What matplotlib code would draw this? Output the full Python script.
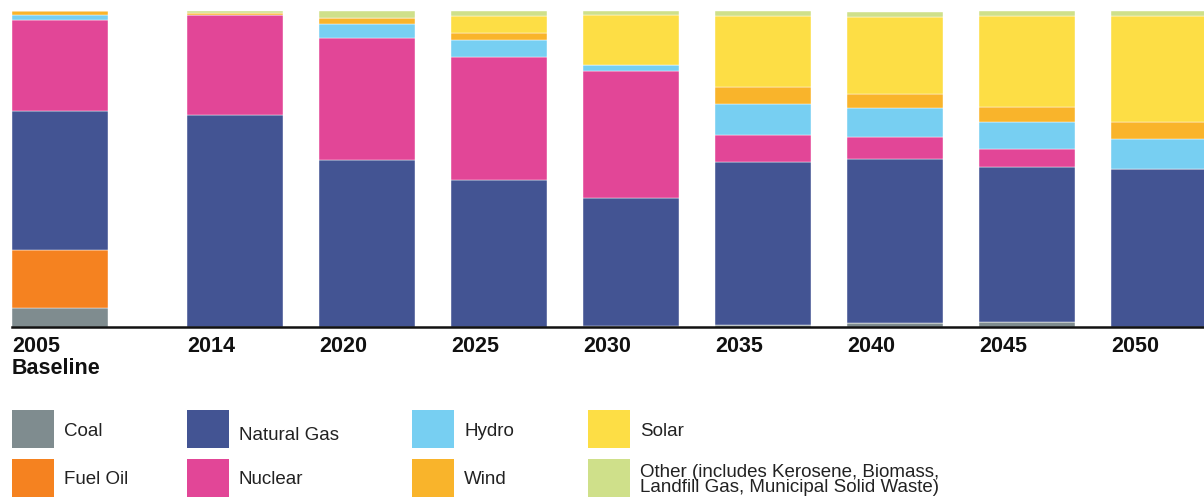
import numpy as np
import matplotlib
matplotlib.use("Agg")
import matplotlib.pyplot as plt
from matplotlib.patches import Rectangle

plt.rcParams['font.family'] = ['Liberation Sans', 'DejaVu Sans']

# share of generation (%)
years = ["2005\nBaseline", "2014", "2020", "2025", "2030", "2035", "2040", "2045", "2050"]
coal = [6.0, 0.0, 0.0, 0.0, 0.4, 0.5, 1.3, 1.6, 0.0]
fuel_oil = [18.4, 0.0, 0.0, 0.0, 0.0, 0.0, 0.0, 0.0, 0.0]
natural_gas = [44.0, 67.1, 52.8, 46.5, 40.4, 51.7, 51.9, 49.1, 50.0]
nuclear = [28.8, 31.6, 38.6, 38.9, 40.2, 8.5, 7.0, 5.7, 0.0]
hydro = [1.6, 0.0, 4.4, 5.4, 1.9, 9.8, 9.2, 8.5, 9.5]
wind = [1.2, 0.7, 1.9, 2.2, 0.0, 5.4, 4.4, 4.7, 5.4]
solar = [0.0, 0.0, 0.0, 5.4, 15.8, 22.5, 24.4, 28.8, 33.5]
other = [0.0, 0.6, 2.2, 1.6, 1.3, 1.6, 1.6, 1.6, 1.6]

names = ["Coal", "Fuel Oil", "Natural Gas", "Nuclear", "Hydro", "Wind", "Solar",
         "Other (includes Kerosene, Biomass,\nLandfill Gas, Municipal Solid Waste)"]
colors = ["#7F8C8F", "#F58220", "#435493", "#E24697", "#77CFF2", "#F9B42B", "#FDDE45", "#CFE08A"]
series = [coal, fuel_oil, natural_gas, nuclear, hydro, wind, solar, other]

W, H = 1204, 500
fig = plt.figure(figsize=(W / 100, H / 100), dpi=100)

unit = 132.0
width = 96 / unit
# first bar sits a bit further from the rest
pos = np.arange(len(years)) + 0.326
pos[0] = 0

left_px, base_px, top_px = 12, 327, 11
ax = fig.add_axes([left_px / W, (H - base_px) / H, (W - left_px) / W, (base_px - top_px) / H])

bottom = np.zeros(len(years))
for vals, c in zip(series, colors):
    vals = np.array(vals)
    ax.bar(pos, vals, width=width, bottom=bottom, color=c, edgecolor='white',
           linewidth=0.3, align='center')
    bottom += vals

ax.set_xlim(-width / 2, -width / 2 + (W - left_px) / unit)
ax.set_ylim(0, 100)
ax.set_yticks([])
ax.set_xticks([])
for s in ["top", "right", "left"]:
    ax.spines[s].set_visible(False)
ax.spines["bottom"].set_linewidth(1.8)
ax.spines["bottom"].set_color("#111111")

for p, lab in zip(pos, years):
    ax.text(p - width / 2, -2.9, lab, ha='left', va='top', fontsize=15.5,
            fontweight='bold', color='#111111', linespacing=1.05)

# legend drawn by hand
legend_cols = [12, 187, 412, 588]
legend_rows = [410, 459]
for i, (name, c) in enumerate(zip(names, colors)):
    col = legend_cols[i // 2]
    row = legend_rows[i % 2]
    sq_w = 42
    sq_h = 38
    fig.add_artist(Rectangle((col / W, (H - row - sq_h) / H), sq_w / W, sq_h / H,
                             transform=fig.transFigure, facecolor=c, edgecolor='none'))
    ty = row + 21
    if name == "Natural Gas":
        ty += 4
    if name.startswith("Other"):
        ty = row + 21
    fig.text((col + sq_w + 10) / W, (H - ty) / H, name, ha='left', va='center',
             fontsize=13.5, color='#222222', linespacing=0.92)

fig.savefig("out.png", dpi=100)
